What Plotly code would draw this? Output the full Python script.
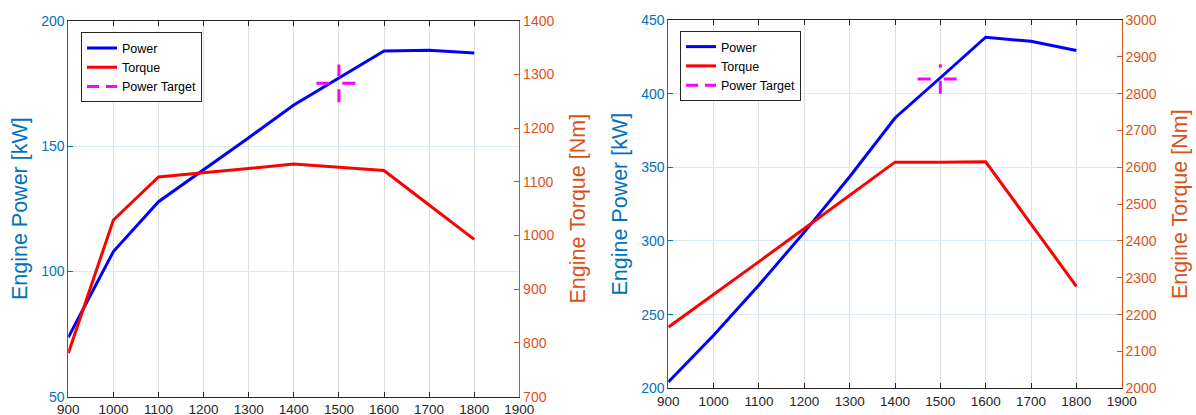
import plotly.graph_objects as go

# ---------------- data ----------------
rpm = [900, 1000, 1100, 1200, 1300, 1400, 1500, 1600, 1700, 1800]

power_a = [73.7, 107.9, 127.8, 140.4, 153.3, 166.4, 177.0, 187.9, 188.2, 187.1]
torque_a = [781, 1029, 1109, 1117, 1125, 1133, 1127, 1121, 1057, 993]

power_b = [204.3, 236.0, 270.1, 306.0, 343.6, 383.5, 410.8, 438.3, 435.5, 429.3]
torque_b = [2166, 2254, 2344, 2434, 2524, 2614, 2614, 2615, 2446, 2277]

target_rpm = 1500
target_span_rpm = [1450, 1550]
target_a = 175
target_a_span = [167.5, 182.5]
target_b = 410
target_b_span = [400, 420]

x_ticks = list(range(900, 2000, 100))
pa_ticks = [50, 100, 150, 200]
ta_ticks = list(range(700, 1500, 100))
pb_ticks = list(range(200, 500, 50))
tb_ticks = list(range(2000, 3100, 100))

# ---------------- style ----------------
BLUE = "#0000FF"
RED = "#FF0000"
MAG = "#FF00FF"
AX_L = "#0072BD"
AX_R = "#D95319"
DARK = "#262626"
GRID_X = "#dedede"
GRID_Y = "#d9eaf5"
FONT = "Liberation Sans, Arial, sans-serif"
W, H = 1196, 415

fig = go.Figure()

def add_panel(xa, ya, ya2, power, torque, tgt, tgt_span, legend):
    fig.add_trace(go.Scatter(x=rpm, y=power, mode="lines", name="Power",
                             line=dict(color=BLUE, width=3), xaxis=xa, yaxis=ya,
                             legend=legend))
    fig.add_trace(go.Scatter(x=rpm, y=torque, mode="lines", name="Torque",
                             line=dict(color=RED, width=3), xaxis=xa, yaxis=ya2,
                             legend=legend))
    fig.add_trace(go.Scatter(x=[None], y=[None], mode="lines", name="Power Target",
                             line=dict(color=MAG, width=3, dash="12px,7px"),
                             xaxis=xa, yaxis=ya, legend=legend))
    fig.add_trace(go.Scatter(x=target_span_rpm, y=[tgt, tgt], mode="lines",
                             showlegend=False,
                             line=dict(color=MAG, width=3, dash="13px,13px"),
                             xaxis=xa, yaxis=ya))
    fig.add_trace(go.Scatter(x=[target_rpm, target_rpm], y=tgt_span, mode="lines",
                             showlegend=False,
                             line=dict(color=MAG, width=3, dash="13px,13px"),
                             xaxis=xa, yaxis=ya))

add_panel("x", "y", "y2", power_a, torque_a, target_a, target_a_span, "legend")
add_panel("x2", "y3", "y4", power_b, torque_b, target_b, target_b_span, "legend2")

def xaxis(domain, anchor):
    return dict(domain=domain, anchor=anchor, range=[900, 1900], tickvals=x_ticks,
                ticks="inside", ticklen=5, tickcolor=DARK, showline=True,
                linecolor=DARK, linewidth=1, mirror="ticks", showgrid=True,
                gridcolor=GRID_X, gridwidth=1, zeroline=False, automargin=False,
                tickfont=dict(size=13.5, color=DARK, family=FONT))

def yleft(domain, anchor, rng, ticks, standoff):
    return dict(domain=domain, anchor=anchor, range=rng, tickvals=ticks,
                ticks="inside", ticklen=5, tickcolor=AX_L, showline=True,
                linecolor=AX_L, linewidth=1, showgrid=True, gridcolor=GRID_Y,
                zeroline=False, automargin=False,
                tickfont=dict(size=14, color=AX_L, family=FONT),
                title=dict(text="Engine Power [kW]", standoff=standoff,
                           font=dict(size=21.5, color=AX_L, family=FONT)))

def yright(overlay, anchor, rng, ticks, standoff):
    return dict(overlaying=overlay, anchor=anchor, side="right", range=rng,
                tickvals=ticks, ticks="inside", ticklen=5, tickcolor=AX_R,
                showline=True, linecolor=AX_R, linewidth=1, showgrid=False,
                zeroline=False, automargin=False,
                tickfont=dict(size=14, color=AX_R, family=FONT),
                title=dict(text="Engine Torque [Nm]", standoff=standoff,
                           font=dict(size=21.5, color=AX_R, family=FONT)))

dom_ax = [68.3 / W, 519.3 / W]
dom_ay = [(H - 396.7) / H, (H - 20.7) / H]
dom_bx = [668.3 / W, 1121.7 / W]
dom_by = [(H - 388.3) / H, (H - 20.0) / H]

legend_style = dict(bgcolor="white", bordercolor=DARK, borderwidth=1,
                    font=dict(size=12.5, color="black", family=FONT),
                    xanchor="left", yanchor="top", tracegroupgap=0)

fig.update_layout(
    template="none",
    width=W, height=H,
    margin=dict(l=0, r=0, t=0, b=0, pad=0),
    paper_bgcolor="white", plot_bgcolor="white",
    font=dict(family=FONT),
    xaxis=xaxis(dom_ax, "y"),
    yaxis=yleft(dom_ay, "x", [50, 200], pa_ticks, 7),
    yaxis2=yright("y", "x", [700, 1400], ta_ticks, 16),
    xaxis2=xaxis(dom_bx, "y3"),
    yaxis3=yleft(dom_by, "x2", [200, 450], pb_ticks, 7),
    yaxis4=yright("y3", "x2", [2000, 3000], tb_ticks, 16),
    legend=dict(x=81 / W, y=(H - 32.3) / H, **legend_style),
    legend2=dict(x=680 / W, y=(H - 31) / H, **legend_style),
    showlegend=True,
)

fig.write_html(
    "out.html",
    config={"displayModeBar": False},
    post_script="document.body.style.margin='0';document.body.style.overflow='hidden';",
)
